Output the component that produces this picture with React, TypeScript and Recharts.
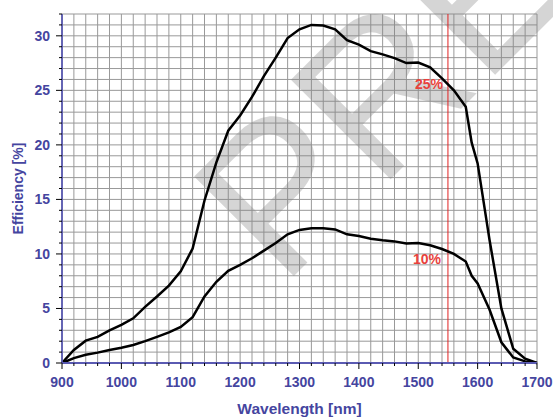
import React from 'react';
import { LineChart, Line, XAxis, YAxis, CartesianGrid, ReferenceLine, ReferenceDot, Customized } from 'recharts';

const wavelength = [900, 920, 940, 960, 980, 1000, 1020, 1040, 1060, 1080, 1100, 1120, 1140, 1160, 1180, 1200, 1220, 1240, 1260, 1280, 1300, 1320, 1340, 1360, 1380, 1400, 1420, 1440, 1460, 1480, 1500, 1520, 1540, 1560, 1580, 1590, 1600, 1620, 1640, 1660, 1680, 1700];
const qe25 = [0, 1.2, 2.05, 2.4, 3.0, 3.5, 4.1, 5.15, 6.1, 7.1, 8.4, 10.5, 14.9, 18.4, 21.3, 22.7, 24.4, 26.3, 28.0, 29.8, 30.6, 31.0, 30.95, 30.6, 29.6, 29.2, 28.6, 28.3, 27.95, 27.5, 27.55, 27.1, 26.1, 25.0, 23.5, 20.2, 18.3, 11.3, 5.0, 1.3, 0.4, 0];
const qe10 = [0, 0.45, 0.75, 0.95, 1.2, 1.4, 1.65, 2.0, 2.4, 2.8, 3.3, 4.2, 6.1, 7.45, 8.45, 9.0, 9.6, 10.3, 11.0, 11.8, 12.2, 12.35, 12.35, 12.25, 11.8, 11.65, 11.4, 11.25, 11.15, 10.95, 11.0, 10.8, 10.45, 10.0, 9.3, 8.0, 7.3, 4.9, 1.9, 0.5, 0.15, 0];

const xMajor = [900, 1000, 1100, 1200, 1300, 1400, 1500, 1600, 1700];
const yMajor = [0, 5, 10, 15, 20, 25, 30];
const xTicks = Array.from({ length: 41 }, (_, i) => 900 + i * 20);
const yTicks = Array.from({ length: 33 }, (_, i) => i);

const data = wavelength.map((w, i) => ({ w, qe25: qe25[i], qe10: qe10[i] }));

const blue = '#45459f';
const font = 'Liberation Sans, Arial, sans-serif';

const XTick = (props: any) => {
  const { x, y, payload } = props;
  const major = xMajor.includes(payload.value);
  return (
    <g>
      <line x1={x} x2={x} y1={y} y2={y + (major ? 6 : 3)} stroke="#000" strokeWidth={1} />
      {major && (
        <text x={x} y={y + 24} textAnchor="middle" fill={blue} fontSize={14} fontWeight="bold" fontFamily={font}>
          {payload.value}
        </text>
      )}
    </g>
  );
};

const YTick = (props: any) => {
  const { x, y, payload } = props;
  const major = yMajor.includes(payload.value);
  return (
    <g>
      <line x1={x - (major ? 6 : 3)} x2={x} y1={y} y2={y} stroke="#000" strokeWidth={1} />
      {major && (
        <text x={x - 12} y={y + 5} textAnchor="end" fill={blue} fontSize={14} fontWeight="bold" fontFamily={font}>
          {payload.value}
        </text>
      )}
    </g>
  );
};

// faint "PRELIMINARY" stamp behind the curves
const Watermark = () => (
  <text
    x={282}
    y={288}
    transform="rotate(-45 282 288)"
    fontSize={205}
    fontFamily={font}
    fill="#808080"
    fillOpacity={0.33}
  >
    PRELIMINARY
  </text>
);

export default function App() {
  return (
    <div style={{ position: 'absolute', left: 0, top: 0 }}>
      <LineChart width={553} height={418} data={data} margin={{ top: 14, right: 16, left: 0, bottom: 0 }}>
        <CartesianGrid stroke="#999" strokeWidth={1} />
        <Customized component={Watermark} />
        <XAxis
          dataKey="w"
          type="number"
          domain={[900, 1700]}
          ticks={xTicks}
          interval={0}
          height={55}
          tickSize={0}
          tickMargin={0}
          tick={<XTick />}
          axisLine={{ stroke: '#5a5ab2', strokeWidth: 1.8 }}
          label={{ value: 'Wavelength [nm]', position: 'insideBottom', offset: 4, fill: blue, fontSize: 15.5, fontWeight: 'bold', fontFamily: font }}
        />
        <YAxis
          type="number"
          domain={[0, 32]}
          ticks={yTicks}
          interval={0}
          width={62}
          tickSize={0}
          tickMargin={0}
          tick={<YTick />}
          axisLine={{ stroke: '#5a5ab2', strokeWidth: 1.8 }}
          label={{ value: 'Efficiency [%]', angle: -90, position: 'insideLeft', offset: 18, fill: blue, fontSize: 14, fontWeight: 'bold', fontFamily: font, style: { textAnchor: 'middle' } }}
        />
        <ReferenceLine x={1550} stroke="#e02020" strokeWidth={1} />
        <Line type="linear" dataKey="qe25" stroke="#000" strokeWidth={2.5} dot={false} isAnimationActive={false} />
        <Line type="linear" dataKey="qe10" stroke="#000" strokeWidth={2.5} dot={false} isAnimationActive={false} />
        <ReferenceDot x={1550} y={25.6} r={0} fill="none" stroke="none"
          label={{ value: '25%', position: 'left', offset: 5, fill: '#e8413c', fontSize: 14, fontWeight: 'bold', fontFamily: font }} />
        <ReferenceDot x={1550} y={9.5} r={0} fill="none" stroke="none"
          label={{ value: '10%', position: 'left', offset: 7, fill: '#e8413c', fontSize: 14, fontWeight: 'bold', fontFamily: font }} />
      </LineChart>
    </div>
  );
}
